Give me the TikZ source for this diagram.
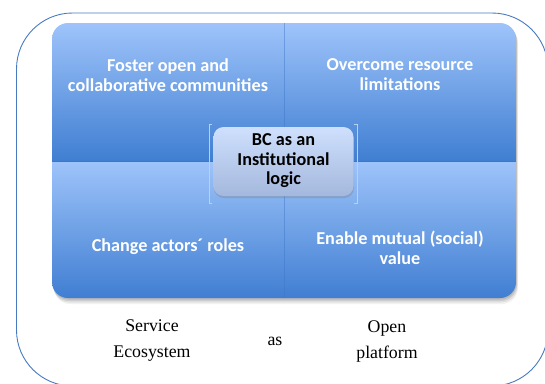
\documentclass[tikz,border=0pt]{standalone}
\usepackage{fontspec}
\setmainfont{Liberation Serif}
\newfontfamily\carlito{Carlito}
\usetikzlibrary{shadows}
\definecolor{qtop}{RGB}{158,196,250}
\definecolor{qbot}{RGB}{64,126,210}
\definecolor{ctop}{RGB}{206,224,252}
\definecolor{cbot}{RGB}{164,184,222}
\definecolor{outerline}{RGB}{72,122,192}
\definecolor{divline}{RGB}{60,118,200}
\definecolor{bracket}{RGB}{185,208,238}
\begin{document}
\begin{tikzpicture}[x=1pt,y=1pt,
  quadtext/.style={text=white, font=\carlito\bfseries\fontsize{18.2}{20}\selectfont, align=center, inner sep=0pt},
  centertext/.style={text=black, font=\carlito\bfseries\fontsize{18.2}{19.5}\selectfont, align=center, inner sep=0pt},
  captext/.style={text=black, font=\fontsize{17.8}{26}\selectfont, align=center, inner sep=0pt},
  centerbox/.style={rounded corners=10pt, top color=ctop, bottom color=cbot, minimum width=140pt, minimum height=69pt,
    drop shadow={opacity=0.35, shadow xshift=0.5pt, shadow yshift=-2pt}},
  bracketline/.style={draw=bracket, line width=0.5pt}
]
\useasboundingbox (0,0) rectangle (545,-383);
% outer frame
\begin{scope}
  \clip (0,0) rectangle (545,-383);
  \draw[outerline, line width=0.9pt, rounded corners=56pt] (16.5,-13) rectangle (548,-386);
\end{scope}
% soft shadow of the grid
\foreach \o/\a in {4/0.05,3/0.07,2/0.09,1/0.1}{
  \fill[black, opacity=\a, rounded corners=16pt] (52+0.5*\o,-23-\o) rectangle (516+0.5*\o,-298-1.5*\o);
}
% quadrants
\begin{scope}
  \clip[rounded corners=16pt] (52,-23) rectangle (516,-298);
  \shade[top color=qtop, bottom color=qbot] (52,-23) rectangle (284,-161);
  \shade[top color=qtop, bottom color=qbot] (284,-23) rectangle (516,-161);
  \shade[top color=qtop, bottom color=qbot] (52,-161) rectangle (284,-298);
  \shade[top color=qtop, bottom color=qbot] (284,-161) rectangle (516,-298);
  \draw[divline, line width=0.5pt, opacity=0.45] (284,-23) -- (284,-298);
  \draw[divline, line width=0.8pt] (52,-161) -- (516,-161);
\end{scope}
% faint brackets around the centre box
\draw[bracketline] (212,-124) -- (209,-124) -- (209,-203) -- (212,-203);
\draw[bracketline] (354,-124) -- (357,-124) -- (357,-203) -- (354,-203);
% centre box
\node[centerbox] (bcbox) at (283.5,-161.5) {};
\node[centertext] (bc) at (283.5,-161) {BC as an\\Institutional\\logic};
% quadrant texts
\node[quadtext] (q1) at (168,-75) {Foster open and\\collaborative communities};
\node[quadtext] (q2) at (400,-75) {Overcome resource\\limitations};
\node[quadtext] (q3) at (168,-247) {Change actors´ roles};
\node[quadtext] (q4) at (400,-248) {Enable mutual (social)\\value};
% bottom captions
\node[captext] (c1) at (152,-341) {Service\\Ecosystem};
\node[captext] (c2) at (275,-341) {as};
\node[captext] (c3) at (387,-341) {Open\\platform};
\end{tikzpicture}
\end{document}
